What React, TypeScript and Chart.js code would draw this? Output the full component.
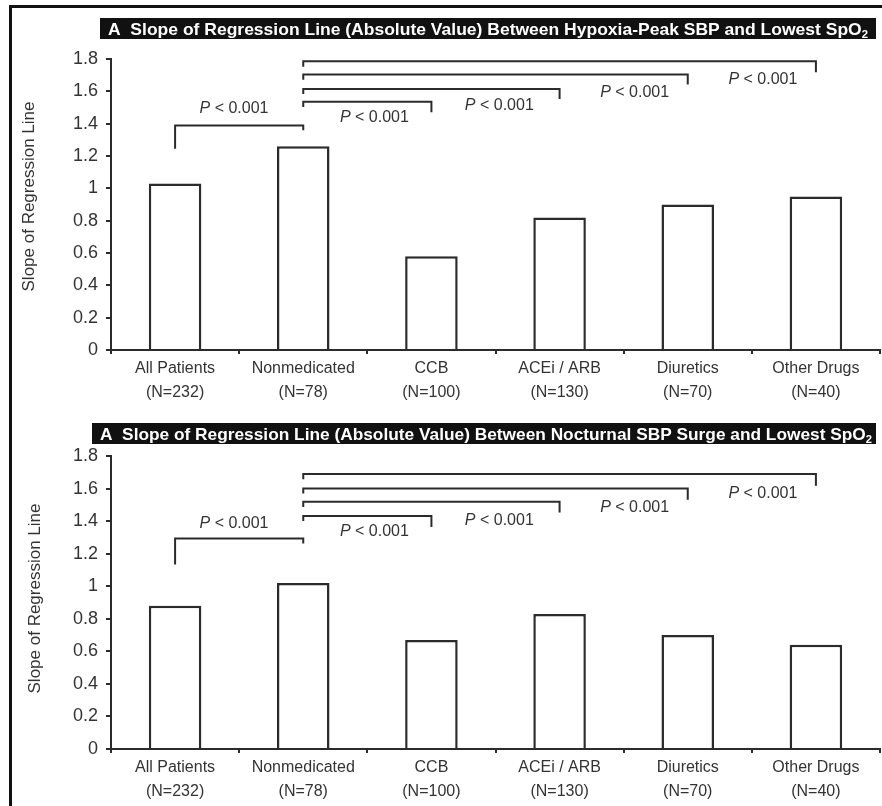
import React, { useEffect, useRef } from 'react';
import { Chart, registerables } from 'chart.js';

Chart.register(...registerables);

// ---------- data ----------
const categories = ['All Patients', 'Nonmedicated', 'CCB', 'ACEi / ARB', 'Diuretics', 'Other Drugs'];
const sampleSizes = ['(N=232)', '(N=78)', '(N=100)', '(N=130)', '(N=70)', '(N=40)'];
const hypoxiaPeakSlope = [1.03, 1.26, 0.58, 0.82, 0.9, 0.95];
const nocturnalSurgeSlope = [0.88, 1.02, 0.67, 0.83, 0.7, 0.64];
const yMin = 0;
const yMax = 1.8;
const yStep = 0.2;
const pLabelItalic = 'P';
const pLabelRest = ' < 0.001';
const titleTop = 'A  Slope of Regression Line (Absolute Value) Between Hypoxia-Peak SBP and Lowest SpO';
const titleBottom = 'A  Slope of Regression Line (Absolute Value) Between Nocturnal SBP Surge and Lowest SpO';
const titleSub = '2';
const yAxisTitle = 'Slope of Regression Line';

// comparison brackets: [fromIndex, toIndex, level, leftLegEnd, rightLegEnd, labelIndex, labelLevel]
const bracketsTop = [
  [0, 1, 1.388, 1.245, 1.36, 0.46, 1.493],
  [1, 2, 1.535, 1.503, 1.47, 1.555, 1.437],
  [1, 3, 1.615, 1.583, 1.553, 2.53, 1.512],
  [1, 4, 1.704, 1.672, 1.642, 3.586, 1.594],
  [1, 5, 1.786, 1.752, 1.718, 4.586, 1.673],
];
const bracketsBottom = [
  [0, 1, 1.293, 1.134, 1.262, 0.46, 1.387],
  [1, 2, 1.432, 1.4, 1.364, 1.555, 1.333],
  [1, 3, 1.519, 1.487, 1.453, 2.53, 1.406],
  [1, 4, 1.601, 1.569, 1.531, 3.586, 1.486],
  [1, 5, 1.689, 1.657, 1.617, 4.586, 1.572],
];

// ---------- styling ----------
const FONT = "'Liberation Sans', Arial, 'DejaVu Sans', sans-serif";
const TITLE_FONT = "'Liberation Sans', Arial, sans-serif";
const INK = '#2b2b2b';
const TEXT = '#333333';

type PanelLayout = {
  canvasTop: number;
  canvasHeight: number;
  padTop: number;
  xAxisHeight: number;
  bar: [number, number, number, number];
  textX: number;
  textW: number;
  yTitleX: number;
  yTitleShift: number;
};

const layoutTop: PanelLayout = {
  canvasTop: 0, canvasHeight: 400, padTop: 59, xAxisHeight: 50,
  bar: [100, 18, 776, 21], textX: 108, textW: 760, yTitleX: 29, yTitleShift: -8,
};
const layoutBottom: PanelLayout = {
  canvasTop: 400, canvasHeight: 406, padTop: 56, xAxisHeight: 57,
  bar: [92, 23, 784, 21], textX: 100, textW: 772, yTitleX: 35, yTitleShift: -4,
};

function makeConfig(values: number[], brackets: number[][], title: string, L: PanelLayout): any {
  const decor = {
    id: 'decor',
    afterDraw(chart: any) {
      const ctx = chart.ctx as CanvasRenderingContext2D;
      const xs = chart.scales.x;
      const ys = chart.scales.y;
      const area = chart.chartArea;
      ctx.save();
      // title bar
      const [bx, by, bw, bh] = L.bar;
      ctx.fillStyle = '#111111';
      ctx.fillRect(bx, by, bw, bh);
      ctx.fillStyle = '#ffffff';
      ctx.textBaseline = 'alphabetic';
      ctx.textAlign = 'left';
      ctx.font = `bold 17px ${TITLE_FONT}`;
      const mainW = ctx.measureText(title).width;
      ctx.font = `bold 11px ${TITLE_FONT}`;
      const subW = ctx.measureText(titleSub).width;
      const sx = L.textW / (mainW + subW);
      const baseY = by + bh / 2 + 6;
      ctx.save();
      ctx.translate(L.textX, baseY);
      ctx.scale(sx, 1);
      ctx.font = `bold 17px ${TITLE_FONT}`;
      ctx.fillText(title, 0, 0);
      ctx.font = `bold 11px ${TITLE_FONT}`;
      ctx.fillText(titleSub, mainW, 3);
      ctx.restore();

      // y axis title
      ctx.save();
      ctx.translate(L.yTitleX, (area.top + area.bottom) / 2 + L.yTitleShift);
      ctx.rotate(-Math.PI / 2);
      ctx.font = `17px ${FONT}`;
      ctx.fillStyle = TEXT;
      ctx.textAlign = 'center';
      ctx.textBaseline = 'middle';
      ctx.fillText(yAxisTitle, 0, 0);
      ctx.restore();

      // brackets
      ctx.strokeStyle = INK;
      ctx.lineWidth = 2;
      ctx.lineCap = 'butt';
      for (const b of brackets) {
        const [from, to, level, leftEnd, rightEnd, lx, ly] = b;
        const x1 = xs.getPixelForValue(from);
        const x2 = xs.getPixelForValue(to);
        const y = ys.getPixelForValue(level);
        ctx.beginPath();
        ctx.moveTo(x1, ys.getPixelForValue(leftEnd));
        ctx.lineTo(x1, y);
        ctx.lineTo(x2, y);
        ctx.lineTo(x2, ys.getPixelForValue(rightEnd));
        ctx.stroke();

        const cx = xs.getPixelForValue(0) + (xs.getPixelForValue(1) - xs.getPixelForValue(0)) * lx;
        const cy = ys.getPixelForValue(ly);
        ctx.font = `italic 16px ${FONT}`;
        const w1 = ctx.measureText(pLabelItalic).width;
        ctx.font = `16px ${FONT}`;
        const w2 = ctx.measureText(pLabelRest).width;
        const start = cx - (w1 + w2) / 2;
        ctx.fillStyle = TEXT;
        ctx.textAlign = 'left';
        ctx.textBaseline = 'middle';
        ctx.font = `italic 16px ${FONT}`;
        ctx.fillText(pLabelItalic, start, cy);
        ctx.font = `16px ${FONT}`;
        ctx.fillText(pLabelRest, start + w1, cy);
      }
      ctx.restore();
    },
  };

  return {
    type: 'bar',
    data: {
      labels: categories.map((c, i) => [c, sampleSizes[i]]),
      datasets: [
        {
          data: values,
          backgroundColor: '#ffffff',
          borderColor: INK,
          borderWidth: 2.5,
          categoryPercentage: 0.82,
          barPercentage: 0.5,
        },
      ],
    },
    options: {
      responsive: false,
      animation: false,
      layout: { padding: { top: L.padTop, right: 2, left: 0, bottom: 0 } },
      plugins: { legend: { display: false }, tooltip: { enabled: false }, title: { display: false } },
      scales: {
        x: {
          grid: { display: true, drawOnChartArea: false, tickLength: 4, color: INK, lineWidth: 2, offset: true },
          border: { display: true, color: INK, width: 2 },
          ticks: {
            color: TEXT,
            font: { family: FONT, size: 16, lineHeight: 1.5 },
            padding: 3,
            maxRotation: 0,
            autoSkip: false,
          },
          afterFit: (s: any) => {
            s.height = L.xAxisHeight;
          },
        },
        y: {
          min: yMin,
          max: yMax,
          grid: { display: true, drawOnChartArea: false, tickLength: 5, color: INK, lineWidth: 2 },
          border: { display: true, color: INK, width: 2 },
          ticks: {
            stepSize: yStep,
            color: TEXT,
            font: { family: FONT, size: 18 },
            padding: 8,
            callback: (v: any) => String(Math.round(Number(v) * 10) / 10),
          },
          afterFit: (s: any) => {
            s.width = 111;
          },
        },
      },
    },
    plugins: [decor],
  };
}

export default function App() {
  const c1 = useRef<HTMLCanvasElement>(null);
  const c2 = useRef<HTMLCanvasElement>(null);

  useEffect(() => {
    const a = new Chart(c1.current as HTMLCanvasElement, makeConfig(hypoxiaPeakSlope, bracketsTop, titleTop, layoutTop));
    const b = new Chart(c2.current as HTMLCanvasElement, makeConfig(nocturnalSurgeSlope, bracketsBottom, titleBottom, layoutBottom));
    return () => {
      a.destroy();
      b.destroy();
    };
  }, []);

  return (
    <div style={{ position: 'fixed', left: 0, top: 0, width: 882, height: 806, background: '#ffffff', overflow: 'hidden' }}>
      <div
        style={{
          position: 'absolute',
          left: 9,
          top: 5,
          width: 900,
          height: 900,
          borderLeft: '3px solid #111',
          borderTop: '3px solid #111',
        }}
      />
      <canvas
        ref={c1}
        width={882}
        height={layoutTop.canvasHeight}
        style={{ position: 'absolute', left: 0, top: layoutTop.canvasTop, width: 882, height: layoutTop.canvasHeight }}
      />
      <canvas
        ref={c2}
        width={882}
        height={layoutBottom.canvasHeight}
        style={{ position: 'absolute', left: 0, top: layoutBottom.canvasTop, width: 882, height: layoutBottom.canvasHeight }}
      />
    </div>
  );
}
